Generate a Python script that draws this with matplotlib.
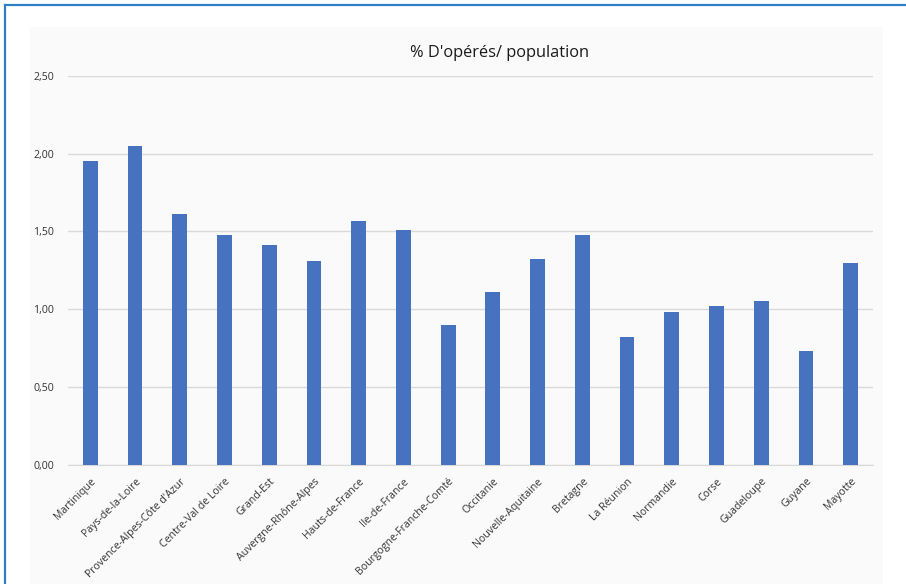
"""Bar chart: % D'opérés / population by region."""

import matplotlib.pyplot as plt
from matplotlib.patches import Rectangle
from matplotlib.lines import Line2D
from matplotlib.ticker import FuncFormatter

regions = ['Martinique', 'Pays-de-la-Loire', 'Provence-Alpes-Côte d\'Azur', 'Centre-Val de Loire',
           'Grand-Est', 'Auvergne-Rhône-Alpes', 'Hauts-de-France', 'Ile-de-France',
           'Bourgogne-Franche-Comté', 'Occitanie', 'Nouvelle-Aquitaine', 'Bretagne',
           'La Réunion', 'Normandie', 'Corse', 'Guadeloupe', 'Guyane', 'Mayotte']
pct_operes = [1.95, 2.05, 1.61, 1.48, 1.41, 1.31, 1.57, 1.51,
              0.90, 1.11, 1.32, 1.48, 0.82, 0.98, 1.02, 1.05, 0.73, 1.30]
yticks = [0, 0.5, 1.0, 1.5, 2.0, 2.5]

W, H = 906, 584
fig = plt.figure(figsize=[W / 100, H / 100], dpi=100)
plt.rcParams['font.family'] = ['Open Sans', 'DejaVu Sans']

# light chart area + blue frame (left and top only)
fig.patches.append(Rectangle((30 / W, 0), 853 / W, 1 - 27 / H, transform=fig.transFigure,
                             facecolor='#fafafa', edgecolor='none', zorder=-1))
fig.lines.append(Line2D([5 / W, 5 / W], [0, 1 - 5 / H], transform=fig.transFigure,
                        color='#2e7fc8', lw=1.6))
fig.lines.append(Line2D([5 / W, 1], [1 - 5 / H, 1 - 5 / H], transform=fig.transFigure,
                        color='#2e7fc8', lw=1.6))

ax = fig.add_axes([68 / W, 1 - 465 / H, 805 / W, (465 - 75.7) / H])
ax.patch.set_alpha(0)

x = range(len(regions))
ax.bar(x, pct_operes, width=0.33, color='#4672bf', zorder=3)

ax.set_xlim(-0.5, len(regions) - 0.5)
ax.set_ylim(0, 2.5)
ax.set_yticks(yticks)
ax.yaxis.set_major_formatter(FuncFormatter(lambda v, p: f'{v:.2f}'.replace('.', ',')))
ax.grid(axis='y', color='#d9d9d9', lw=1, zorder=0)
for sp in ['top', 'right', 'left']:
    ax.spines[sp].set_visible(False)
ax.spines['bottom'].set_color('#d9d9d9')

ax.set_xticks(list(x))
ax.set_xticklabels(regions, rotation=45, ha='right', rotation_mode='anchor')
ax.tick_params(axis='both', length=0, labelsize=7.6, colors='#333333')
ax.tick_params(axis='y', pad=10)
ax.tick_params(axis='x', pad=8)

fig.text(500 / W, 1 - 53 / H, "% D'opérés/ population", ha='center', va='center',
         fontsize=11.8, color='#1a1a1a')

plt.savefig('out.png', dpi=100)
